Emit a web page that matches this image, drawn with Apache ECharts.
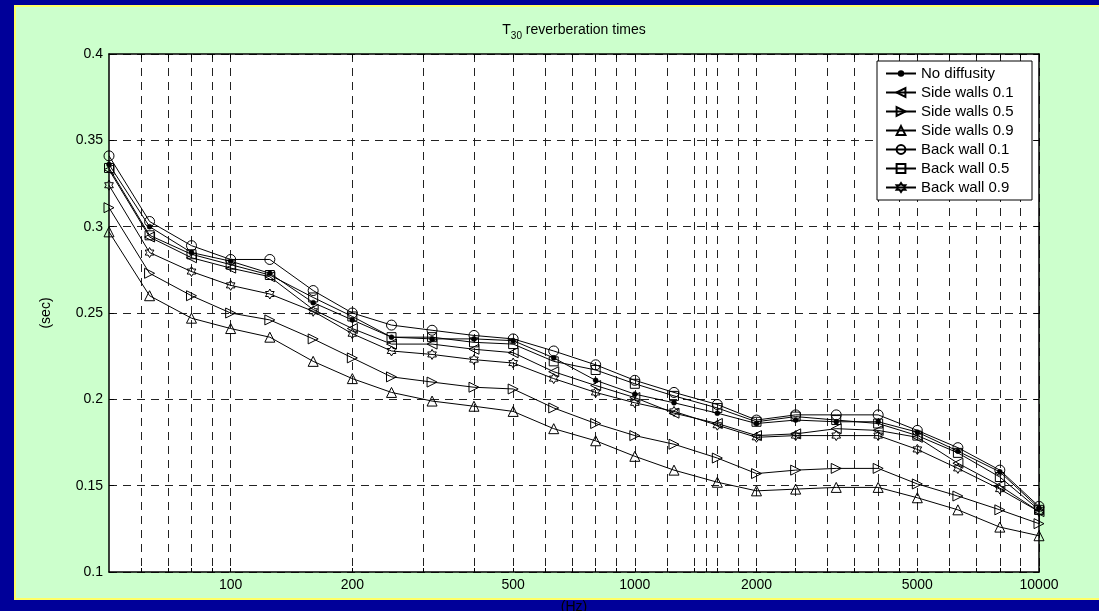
<!DOCTYPE html>
<html>
<head>
<meta charset="utf-8">
<script src="https://cdn.jsdelivr.net/npm/echarts@6/dist/echarts.min.js"></script>
<style>
html,body{margin:0;padding:0;background:#000099;}
#c{width:1099px;height:611px;}
</style>
</head>
<body>
<div id="c"></div>
<script>
// ---- data ----
const freqs = [50,63,80,100,125,160,200,250,315,400,500,630,800,1000,1250,1600,2000,2500,3150,4000,5000,6300,8000,10000];
const noDiff = [0.336,0.300,0.285,0.280,0.273,0.256,0.246,0.236,0.235,0.235,0.234,0.224,0.211,0.203,0.198,0.192,0.186,0.188,0.187,0.187,0.181,0.170,0.158,0.137];
const side01 = [0.333,0.294,0.282,0.276,0.271,0.252,0.241,0.232,0.232,0.229,0.227,0.216,0.208,0.201,0.192,0.186,0.179,0.180,0.183,0.182,0.178,0.163,0.150,0.135];
const side05 = [0.311,0.273,0.260,0.250,0.246,0.235,0.224,0.213,0.210,0.207,0.206,0.195,0.186,0.179,0.174,0.166,0.157,0.159,0.160,0.160,0.151,0.144,0.136,0.128];
const side09 = [0.297,0.260,0.247,0.241,0.236,0.222,0.212,0.204,0.199,0.196,0.193,0.183,0.176,0.167,0.159,0.152,0.147,0.148,0.149,0.149,0.143,0.136,0.126,0.121];
const back01 = [0.341,0.303,0.289,0.281,0.281,0.263,0.250,0.243,0.240,0.237,0.235,0.228,0.220,0.211,0.204,0.197,0.188,0.191,0.191,0.191,0.182,0.172,0.159,0.138];
const back05 = [0.334,0.295,0.284,0.278,0.272,0.259,0.248,0.236,0.236,0.233,0.232,0.222,0.217,0.209,0.202,0.195,0.187,0.190,0.188,0.186,0.179,0.169,0.155,0.136];
const back09 = [0.324,0.285,0.274,0.266,0.261,0.251,0.238,0.228,0.226,0.223,0.221,0.212,0.204,0.198,0.193,0.185,0.178,0.179,0.179,0.179,0.171,0.160,0.148,0.135];
const seriesNames = ['No diffusity','Side walls 0.1','Side walls 0.5','Side walls 0.9','Back wall 0.1','Back wall 0.5','Back wall 0.9'];
const xLabelValues = [100,200,500,1000,2000,5000,10000];
const xGridValues = [60,70,80,90,100,200,300,400,500,600,700,800,900,1000,1200,1400,1500,1600,1800,2000,2500,3000,3500,4000,4500,5000,6000,7000,8000,9000,10000];
const xMin = 50, xMax = 10000;
const yMin = 0.1, yMax = 0.4, yStep = 0.05;
const titleMain = 'T', titleSub = '30', titleRest = ' reverberation times';
const xName = '(Hz)', yName = '(sec)';

// ---- styling ----
const FONT = 'Liberation Sans, Arial, Helvetica, sans-serif';
const values = [noDiff, side01, side05, side09, back01, back05, back09];
const symbols = [
  // small filled dot centred in a 10x10 box (the two moves fix the box)
  'path://M0,0M10,10M7.5,5A2.5,2.5,0,1,1,2.5,5A2.5,2.5,0,1,1,7.5,5Z',
  'path://M0,5L10,0L10,10Z',
  'path://M10,5L0,0L0,10Z',
  'triangle',
  'circle',
  'rect',
  'path://M5,0L6.443,2.5L9.33,2.5L7.887,5L9.33,7.5L6.443,7.5L5,10L3.557,7.5L0.67,7.5L2.113,5L0.67,2.5L3.557,2.5Z'
];
const sizes = [10, 10, 10, 10, 10, 9, 10];

const series = seriesNames.map((name, i) => ({
  name: name,
  type: 'line',
  data: freqs.map((f, j) => [f, values[i][j]]),
  symbol: symbols[i],
  symbolSize: sizes[i],
  symbolKeepAspect: true,
  showSymbol: true,
  lineStyle: { color: '#000', width: 1 },
  itemStyle: i === 0 ? { color: '#000', borderColor: '#000', borderWidth: 0.5 }
                     : { color: 'rgba(0,0,0,0)', borderColor: '#000', borderWidth: 1 },
  emphasis: { disabled: true },
  z: 3
}));

const dash = [8, 6];
const chart = echarts.init(document.getElementById('c'), null, { renderer: 'canvas' });
chart.setOption({
  animation: false,
  backgroundColor: '#000099',
  textStyle: { fontFamily: FONT },
  graphic: [
    { type: 'rect', z: -10, silent: true, shape: { x: 14, y: 5, width: 1100, height: 595 }, style: { fill: '#FFFF66' } },
    { type: 'rect', z: -9, silent: true, shape: { x: 16, y: 7, width: 1100, height: 591 }, style: { fill: '#CCFFCC' } },
    { type: 'text', z: 5, silent: true, x: 574, y: 19,
      style: {
        text: '{t|' + titleMain + '}{s|' + titleSub + '}{t|' + titleRest + '}',
        align: 'center', verticalAlign: 'top',
        rich: {
          t: { fontSize: 14, lineHeight: 22, fontFamily: FONT, fill: '#000' },
          s: { fontSize: 10, lineHeight: 10, padding: [12, 0, 0, 0], fontFamily: FONT, fill: '#000' }
        }
      }
    }
  ],
  grid: { left: 109, right: 60, top: 54, bottom: 39, show: true, backgroundColor: '#fff', borderWidth: 0,
          containLabel: false, outerBoundsMode: 'none' },
  legend: {
    left: 877, top: 61, orient: 'vertical',
    itemWidth: 30, itemHeight: 11, itemGap: 4,
    padding: [5, 6, 5, 8],
    backgroundColor: '#fff', borderColor: '#000', borderWidth: 1, borderRadius: 0,
    textStyle: { fontSize: 15, lineHeight: 15, color: '#000', fontFamily: FONT, width: 105 },
    selectedMode: false,
    data: seriesNames
  },
  xAxis: [
    {
      type: 'log', logBase: 10, min: xMin, max: xMax, position: 'bottom',
      name: xName, nameLocation: 'middle', nameGap: 28,
      nameTextStyle: { fontSize: 14, color: '#000', fontFamily: FONT },
      axisLine: { show: true, lineStyle: { color: '#000', width: 1.5 } },
      axisTick: { show: true, inside: true, length: 4, customValues: xGridValues, lineStyle: { color: '#000' } },
      axisLabel: { show: true, customValues: xLabelValues, fontSize: 14, color: '#000', margin: 6, fontFamily: FONT,
                   formatter: v => String(Math.round(v)) },
      splitLine: { show: true, lineStyle: { color: '#222', width: 1, type: dash } },
      minorTick: { show: false }
    },
    {
      type: 'log', logBase: 10, min: xMin, max: xMax, position: 'top',
      axisLine: { show: true, onZero: false, lineStyle: { color: '#000', width: 1.5 } },
      axisTick: { show: true, inside: true, length: 4, customValues: xGridValues, lineStyle: { color: '#000' } },
      axisLabel: { show: false },
      splitLine: { show: false }
    }
  ],
  yAxis: [
    {
      type: 'value', min: yMin, max: yMax, interval: yStep, position: 'left',
      name: yName, nameLocation: 'middle', nameGap: 56,
      nameTextStyle: { fontSize: 14, color: '#000', fontFamily: FONT },
      axisLine: { show: true, lineStyle: { color: '#000', width: 1.5 } },
      axisTick: { show: true, inside: true, length: 5, lineStyle: { color: '#000' } },
      axisLabel: { fontSize: 14, color: '#000', margin: 6, fontFamily: FONT,
                   formatter: v => String(Math.round(v * 100) / 100) },
      splitLine: { show: true, lineStyle: { color: '#222', width: 1, type: dash } }
    },
    {
      type: 'value', min: yMin, max: yMax, interval: yStep, position: 'right',
      axisLine: { show: true, onZero: false, lineStyle: { color: '#000', width: 1.5 } },
      axisTick: { show: true, inside: true, length: 5, lineStyle: { color: '#000' } },
      axisLabel: { show: false },
      splitLine: { show: false }
    }
  ],
  series: series
});
</script>
</body>
</html>
